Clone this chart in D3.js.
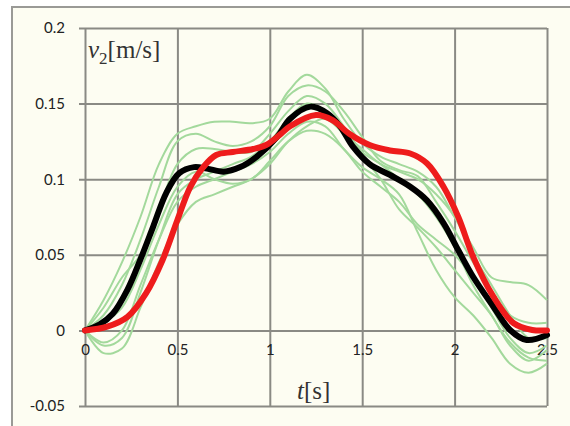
<!DOCTYPE html>
<html>
<head>
<meta charset="utf-8">
<script src="https://cdn.jsdelivr.net/npm/d3@7"></script>
<style>
  body { margin: 0; background: #fff; }
  .grid line { stroke: #8a8a84; stroke-width: 2; }
  .grid path { display: none; }
  .tick text { font-family: Lato, "Open Sans", sans-serif; font-size: 15px; fill: #222; }
</style>
</head>
<body>
<div class="svg-container"></div>
<script>
// tick values
var yTicks = [-0.05, 0, 0.05, 0.1, 0.15, 0.2];
var xTicks = [0, 0.5, 1, 1.5, 2, 2.5];

// measured mean (black) and model (red)
var blackT = [0, 0.08, 0.15, 0.23, 0.3, 0.37, 0.44, 0.51, 0.59, 0.66, 0.75, 0.84, 0.93, 1.04, 1.11, 1.22, 1.31, 1.38, 1.45, 1.54, 1.65, 1.76, 1.85, 1.94, 2.02, 2.1, 2.21, 2.3, 2.39, 2.5];
var blackV = [0, 0.004, 0.011, 0.027, 0.047, 0.069, 0.091, 0.104, 0.108, 0.107, 0.105, 0.108, 0.115, 0.128, 0.14, 0.148, 0.1436, 0.135, 0.1215, 0.11, 0.1028, 0.095, 0.086, 0.071, 0.053, 0.0355, 0.0157, 0.0003, -0.0063, -0.003];

var redT = [0, 0.12, 0.23, 0.33, 0.42, 0.5, 0.57, 0.64, 0.71, 0.8, 0.91, 0.98, 1.06, 1.11, 1.25, 1.34, 1.43, 1.54, 1.65, 1.76, 1.85, 1.94, 2.02, 2.1, 2.21, 2.32, 2.42, 2.5];
var redV = [0, 0.0025, 0.009, 0.0245, 0.0466, 0.073, 0.095, 0.108, 0.116, 0.118, 0.12, 0.1226, 0.13, 0.135, 0.1424, 0.139, 0.13, 0.1226, 0.119, 0.117, 0.1105, 0.095, 0.075, 0.0488, 0.0223, 0.0047, 0.0003, 0];

// individual trials (green)
var greenT = [0, 0.1, 0.2, 0.3, 0.4, 0.5, 0.6, 0.7, 0.8, 0.9, 1.0, 1.1, 1.2, 1.3, 1.4, 1.5, 1.6, 1.7, 1.8, 1.9, 2.0, 2.1, 2.2, 2.3, 2.4, 2.5];
var green1 = [0, 0.02, 0.045, 0.075, 0.11, 0.13, 0.135, 0.138, 0.138, 0.137, 0.14, 0.158, 0.169, 0.16, 0.14, 0.124, 0.115, 0.11, 0.105, 0.095, 0.075, 0.055, 0.035, 0.032, 0.03, 0.02];
var green2 = [0, 0.01, 0.03, 0.06, 0.095, 0.125, 0.13, 0.125, 0.122, 0.125, 0.135, 0.155, 0.162, 0.158, 0.145, 0.128, 0.112, 0.106, 0.102, 0.085, 0.066, 0.045, 0.025, 0.01, 0.005, 0.005];
var green3 = [0, -0.01, -0.005, 0.025, 0.06, 0.09, 0.1, 0.105, 0.11, 0.115, 0.125, 0.14, 0.15, 0.145, 0.13, 0.115, 0.1, 0.08, 0.068, 0.055, 0.04, 0.025, 0.01, -0.01, -0.02, -0.013];
var green4 = [0, -0.015, -0.012, 0.015, 0.045, 0.07, 0.085, 0.09, 0.095, 0.1, 0.11, 0.125, 0.135, 0.14, 0.13, 0.12, 0.11, 0.105, 0.1, 0.09, 0.075, 0.05, 0.03, 0.01, -0.005, -0.005];
var green5 = [0, 0.015, 0.035, 0.05, 0.08, 0.11, 0.12, 0.12, 0.118, 0.118, 0.13, 0.145, 0.155, 0.15, 0.135, 0.118, 0.11, 0.1, 0.09, 0.075, 0.055, 0.03, 0.01, -0.008, -0.018, -0.02];
var green6 = [0, 0.005, 0.015, 0.04, 0.07, 0.095, 0.105, 0.1, 0.097, 0.1, 0.112, 0.125, 0.132, 0.13, 0.12, 0.105, 0.095, 0.085, 0.07, 0.06, 0.05, 0.035, 0.015, -0.005, -0.015, -0.01];
var green7 = [0, -0.008, 0.0, 0.03, 0.06, 0.085, 0.095, 0.1, 0.105, 0.11, 0.118, 0.13, 0.138, 0.135, 0.12, 0.108, 0.1, 0.09, 0.065, 0.04, 0.022, 0.01, -0.005, -0.022, -0.028, -0.022];
var greens = [green1, green2, green3, green4, green5, green6, green7];

var W = 570, H = 426;
var margin = {top: 28, right: 23, bottom: 20, left: 85},
    width = 547 - margin.left,
    height = 406 - margin.top;

var svg = d3.select(".svg-container").append("svg")
    .attr("width", W)
    .attr("height", H);

// cream background + outer frame
svg.append("rect").attr("x", 12).attr("y", 7).attr("width", W - 12).attr("height", H - 7)
    .attr("fill", "#fdfdf2");
svg.append("path").attr("d", "M12," + H + "V7H" + W)
    .attr("fill", "none").attr("stroke", "#9a9a96").attr("stroke-width", 2);

var g = svg.append("g")
    .attr("transform", "translate(" + margin.left + "," + margin.top + ")");

var xScale = d3.scaleLinear().domain([0, 2.5]).range([0, width]),
    yScale = d3.scaleLinear().domain([-0.05, 0.2]).range([height, 0]);

// vertical grid
g.append("g")
    .attr("class", "grid")
    .attr("transform", "translate(0," + height + ")")
    .call(d3.axisBottom(xScale).tickValues(xTicks).tickSize(-height).tickFormat(""));

// horizontal grid, with short ticks to the left
g.append("g")
    .attr("class", "grid")
    .call(d3.axisLeft(yScale).tickValues(yTicks).tickSizeInner(-width).tickSizeOuter(0).tickFormat(""))
    .selectAll(".tick line").attr("x1", -6);

// y labels
g.append("g")
    .attr("class", "labels")
    .call(d3.axisLeft(yScale).tickValues(yTicks).tickSize(0).tickPadding(20)
        .tickFormat(function (d) { return d === 0 ? "0" : String(d); }))
    .call(function (a) { a.select(".domain").remove(); });

// x labels below the zero line
g.append("g")
    .attr("class", "labels")
    .attr("transform", "translate(0," + yScale(0) + ")")
    .call(d3.axisBottom(xScale).tickValues(xTicks).tickSize(0).tickPadding(14)
        .tickFormat(function (d) { return String(d); }))
    .call(function (a) { a.select(".domain").remove(); });

var greenLine = d3.line()
    .curve(d3.curveCatmullRom)
    .x(function (d, i) { return xScale(greenT[i]); })
    .y(function (d) { return yScale(d); });

g.selectAll(".trial")
    .data(greens)
    .enter().append("path")
    .attr("class", "trial")
    .attr("d", greenLine)
    .attr("fill", "none")
    .attr("stroke", "#a3d99c")
    .attr("stroke-width", 2);

function seriesLine(ts) {
    return d3.line()
        .curve(d3.curveCatmullRom)
        .x(function (d, i) { return xScale(ts[i]); })
        .y(function (d) { return yScale(d); });
}

g.append("path")
    .attr("d", seriesLine(blackT)(blackV))
    .attr("fill", "none")
    .attr("stroke", "#000")
    .attr("stroke-width", 6)
    .attr("stroke-linecap", "round");

g.append("path")
    .attr("d", seriesLine(redT)(redV))
    .attr("fill", "none")
    .attr("stroke", "#ee1c1c")
    .attr("stroke-width", 6)
    .attr("stroke-linecap", "round");

// axis titles
var yTitle = svg.append("text")
    .attr("x", 88).attr("y", 58)
    .style("font-family", "'Liberation Serif', serif")
    .style("font-size", "25px")
    .attr("fill", "#333");
yTitle.append("tspan").style("font-style", "italic").text("v");
yTitle.append("tspan").attr("dy", 6).style("font-size", "17px").text("2");
yTitle.append("tspan").attr("dy", -6).text("[m/s]");

var xTitle = svg.append("text")
    .attr("x", 297).attr("y", 399)
    .style("font-family", "'Liberation Serif', serif")
    .style("font-size", "25px")
    .attr("fill", "#333");
xTitle.append("tspan").style("font-style", "italic").text("t");
xTitle.append("tspan").text("[s]");
</script>
</body>
</html>
